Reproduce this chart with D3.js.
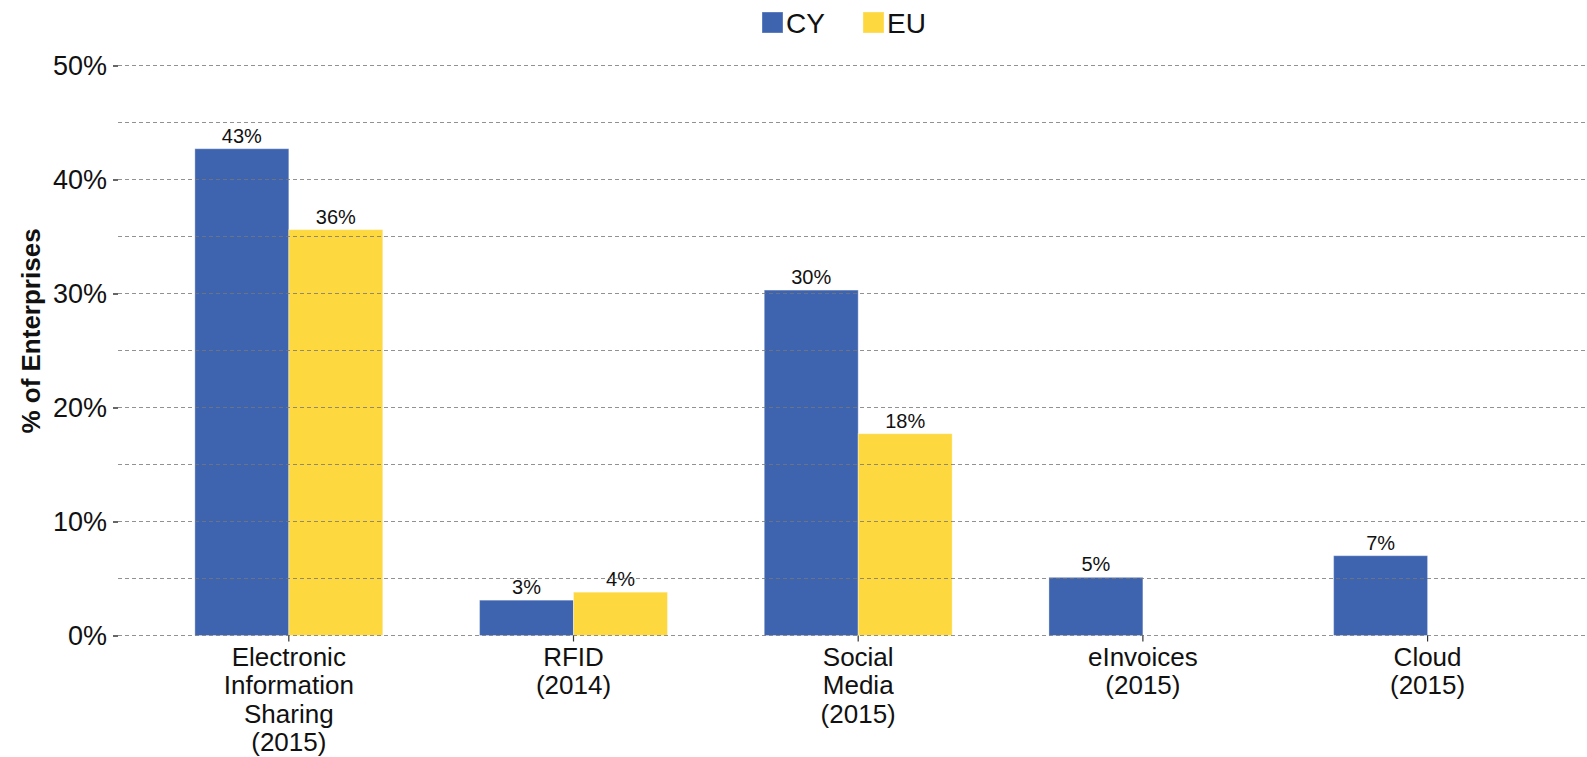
<!DOCTYPE html>
<html>
<head>
<meta charset="utf-8">
<script src="https://cdn.jsdelivr.net/npm/d3@7"></script>
<style>
    body { margin: 0; background: #fff; }
    svg text { font-family: "Liberation Sans", Arial, sans-serif; fill: #111; }
</style>
</head>
<body>
<div id="chart"></div>
<script>
// data
const categories = [
    ['Electronic', 'Information', 'Sharing', '(2015)'],
    ['RFID', '(2014)'],
    ['Social', 'Media', '(2015)'],
    ['eInvoices', '(2015)'],
    ['Cloud', '(2015)']
];
const seriesNames = ['CY', 'EU'];
const cyValues = [42.7, 3.1, 30.3, 5.1, 7.0];
const euValues = [35.6, 3.8, 17.7, null, null];
const cyLabels = ['43%', '3%', '30%', '5%', '7%'];
const euLabels = ['36%', '4%', '18%', '', ''];
const yTicks = [0, 10, 20, 30, 40, 50];
const yGrid = [0, 5, 10, 15, 20, 25, 30, 35, 40, 45, 50];

const colorMap = { CY: '#3e64b0', EU: '#fdd83f' };

const width = 1587, height = 757;
const left = 118, right = 1587, zeroY = 635.5, topY = 65.5;

const svg = d3.select('#chart').append('svg')
    .attr('width', width)
    .attr('height', height);

const keys = categories.map((c, i) => i);

// scales
const x = d3.scaleBand()
    .domain(keys)
    .range([left, right])
    .paddingInner(0.34)
    .paddingOuter(0.25)
    .align(0.54);

const x1 = d3.scaleBand()
    .domain(seriesNames)
    .range([0, x.bandwidth()]);

const y = d3.scaleLinear()
    .domain([0, 50])
    .range([zeroY, topY]);

const rows = keys.map(i => ({
    i: i,
    values: [
        { key: 'CY', value: cyValues[i], label: cyLabels[i] },
        { key: 'EU', value: euValues[i], label: euLabels[i] }
    ].filter(d => d.value != null)
}));

// bars
const groups = svg.append('g').selectAll('g')
    .data(rows)
    .join('g')
    .attr('transform', d => `translate(${x(d.i)},0)`);

groups.selectAll('rect')
    .data(d => d.values)
    .join('rect')
    .attr('x', d => x1(d.key))
    .attr('y', d => y(d.value))
    .attr('width', x1.bandwidth())
    .attr('height', d => y(0) - y(d.value))
    .attr('fill', d => colorMap[d.key])
    .attr('stroke', 'rgba(255,255,255,0.35)')
    .attr('stroke-width', 1);

groups.selectAll('text')
    .data(d => d.values)
    .join('text')
    .attr('x', d => x1(d.key) + x1.bandwidth() / 2)
    .attr('y', d => y(d.value) - 6)
    .attr('text-anchor', 'middle')
    .style('font-size', '20px')
    .text(d => d.label);

// gridlines on top of the bars
svg.append('g').selectAll('line')
    .data(yGrid)
    .join('line')
    .attr('x1', left)
    .attr('x2', right)
    .attr('y1', d => y(d))
    .attr('y2', d => y(d))
    .attr('stroke', '#777')
    .attr('stroke-opacity', 0.8)
    .attr('stroke-width', 1)
    .attr('stroke-dasharray', '4,3');

// y axis
const yAxis = d3.axisLeft(y)
    .tickValues(yTicks)
    .tickFormat(d => d + '%')
    .tickSize(5)
    .tickPadding(6);

const yg = svg.append('g')
    .attr('transform', `translate(${left},0)`)
    .call(yAxis);
yg.select('.domain').remove();
yg.selectAll('.tick line').attr('stroke', '#333').attr('stroke-width', 1.5);
yg.selectAll('.tick text')
    .style('font-size', '27px')
    .style('font-family', '"Liberation Sans", Arial, sans-serif')
    .attr('fill', '#111');

// x axis
const xAxis = d3.axisBottom(x)
    .tickSize(6)
    .tickFormat('');

const xg = svg.append('g')
    .attr('transform', `translate(0,${zeroY})`)
    .call(xAxis);
xg.select('.domain').remove();
xg.selectAll('.tick line').attr('stroke', '#333').attr('stroke-width', 1.2);

xg.selectAll('.tick')
    .append('text')
    .attr('text-anchor', 'middle')
    .attr('fill', '#111')
    .style('font-size', '26px')
    .style('font-family', '"Liberation Sans", Arial, sans-serif')
    .selectAll('tspan')
    .data(d => categories[d])
    .join('tspan')
    .attr('x', 0)
    .attr('y', (d, i) => 30 + i * 28.5)
    .text(d => d);

// y title
svg.append('text')
    .attr('transform', 'translate(40,331) rotate(-90)')
    .attr('text-anchor', 'middle')
    .style('font-size', '26px')
    .style('font-weight', 'bold')
    .text('% of Enterprises');

// legend
const legend = svg.append('g')
    .selectAll('g')
    .data(seriesNames)
    .join('g')
    .attr('transform', (d, i) => `translate(${762 + i * 101},12)`);

legend.append('rect')
    .attr('width', 21)
    .attr('height', 21)
    .attr('fill', d => colorMap[d])
    .attr('stroke', 'rgba(255,255,255,0.35)');

legend.append('text')
    .attr('x', 24)
    .attr('y', 21)
    .style('font-size', '28px')
    .text(d => d);
</script>
</body>
</html>
